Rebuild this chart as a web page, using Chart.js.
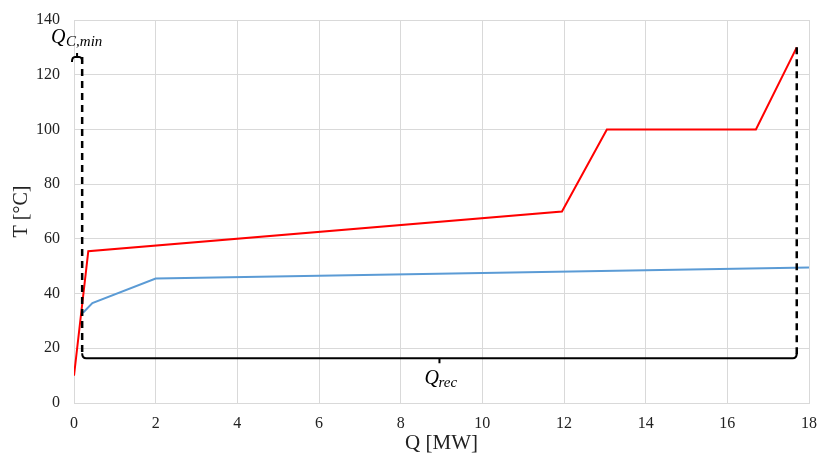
<!DOCTYPE html>
<html>
<head>
<meta charset="utf-8">
<script src="https://cdn.jsdelivr.net/npm/chart.js@4.4.1/dist/chart.umd.min.js"></script>
<style>
  body { margin: 0; background: #fff; }
  canvas { display: block; }
</style>
</head>
<body>
<canvas id="chart" width="819" height="459"></canvas>
<script>
// curva compuesta caliente
const hotQ = [0, 0.35, 11.95, 13.05, 16.7, 17.7];
const hotT = [10, 55.5, 70, 100, 100, 130];
// curva compuesta fría
const coldQ = [0.22, 0.45, 2, 18];
const coldT = [33, 36.5, 45.5, 49.5];

// ejes
const xMin = 0, xMax = 18, xStep = 2;
const yMin = 0, yMax = 140, yStep = 20;

// anotaciones (valores en unidades del gráfico)
const qcMinStart = -0.05;
const qcMinEnd = 0.2;
const qcMinTop = 126.5;
const qrecEnd = 17.7;
const qrecTopT = 130;
const bracketT = 16.4;

const serif = '"Liberation Serif", "Times New Roman", serif';

function pts(xs, ys) {
    return xs.map((x, i) => ({ x: x, y: ys[i] }));
}

const bracketPlugin = {
    id: 'brackets',
    afterDatasetsDraw(chart) {
        const ctx = chart.ctx;
        const sx = chart.scales.x, sy = chart.scales.y;
        const xl = sx.getPixelForValue(qcMinEnd);
        const xr = sx.getPixelForValue(qrecEnd);
        const yb = sy.getPixelForValue(bracketT);
        const yt = sy.getPixelForValue(qcMinTop);
        const yr = sy.getPixelForValue(qrecTopT);
        const x0 = sx.getPixelForValue(qcMinStart);

        ctx.save();
        ctx.strokeStyle = '#000';
        // líneas discontinuas
        ctx.lineWidth = 2.5;
        ctx.setLineDash([7, 5]);
        ctx.beginPath();
        ctx.moveTo(xl, yt);
        ctx.lineTo(xl, yb - 4);
        ctx.moveTo(xr, yr);
        ctx.lineTo(xr, yb - 4);
        ctx.stroke();

        // llave inferior (Q_rec)
        ctx.setLineDash([]);
        ctx.lineWidth = 2;
        const xm = (xl + xr) / 2;
        ctx.beginPath();
        ctx.moveTo(xl, yb - 5);
        ctx.quadraticCurveTo(xl, yb, xl + 4, yb);
        ctx.lineTo(xr - 4, yb);
        ctx.quadraticCurveTo(xr, yb, xr, yb - 5);
        ctx.moveTo(xm, yb);
        ctx.lineTo(xm, yb + 5);
        ctx.stroke();

        // llave superior (Q_C,min)
        const xmt = (x0 + xl) / 2;
        ctx.beginPath();
        ctx.moveTo(x0, yt + 5);
        ctx.quadraticCurveTo(x0, yt, x0 + 3, yt);
        ctx.lineTo(xl - 3, yt);
        ctx.quadraticCurveTo(xl, yt, xl, yt + 5);
        ctx.moveTo(xmt, yt);
        ctx.lineTo(xmt, yt - 4);
        ctx.stroke();

        // etiquetas
        ctx.fillStyle = '#000';
        ctx.textBaseline = 'alphabetic';
        ctx.textAlign = 'left';
        ctx.font = 'italic 20px ' + serif;
        ctx.fillText('Q', xmt - 26, yt - 14);
        ctx.font = 'italic 15px ' + serif;
        ctx.fillText('C,min', xmt - 11, yt - 11);

        ctx.font = 'italic 20px ' + serif;
        ctx.fillText('Q', xm - 15, yb + 26);
        ctx.font = 'italic 15px ' + serif;
        ctx.fillText('rec', xm - 1, yb + 29);
        ctx.restore();
    }
};

new Chart(document.getElementById('chart').getContext('2d'), {
    type: 'scatter',
    data: {
        datasets: [{
            data: pts(hotQ, hotT),
            showLine: true,
            borderColor: '#FF0000',
            borderWidth: 2,
            pointRadius: 0,
            tension: 0
        }, {
            data: pts(coldQ, coldT),
            showLine: true,
            borderColor: '#5B9BD5',
            borderWidth: 2,
            pointRadius: 0,
            tension: 0
        }]
    },
    options: {
        responsive: false,
        animation: false,
        layout: { padding: { top: 20, right: 10, left: 0, bottom: 0 } },
        plugins: { legend: { display: false }, tooltip: { enabled: false } },
        scales: {
            x: {
                type: 'linear',
                min: xMin, max: xMax,
                afterFit: scale => {
                    scale.height = 56;
                    scale.paddingLeft = 0;
                    scale.paddingRight = 0;
                },
                ticks: { stepSize: xStep, padding: 11, color: '#222', font: { family: serif, size: 16 } },
                grid: { color: '#D9D9D9', drawTicks: false },
                border: { color: '#D9D9D9' },
                title: { display: true, text: 'Q [MW]', color: '#222', font: { family: serif, size: 21 }, padding: { top: 0, bottom: 3 } }
            },
            y: {
                min: yMin, max: yMax,
                afterFit: scale => {
                    scale.width = 74;
                    scale.paddingTop = 0;
                    scale.paddingBottom = 0;
                },
                ticks: { stepSize: yStep, padding: 14, color: '#222', font: { family: serif, size: 16 } },
                grid: { color: '#D9D9D9', drawTicks: false },
                border: { color: '#D9D9D9' },
                title: { display: true, text: 'T [°C]', color: '#222', font: { family: serif, size: 20 }, padding: { top: 10, bottom: 0 } }
            }
        }
    },
    plugins: [bracketPlugin]
});
</script>
</body>
</html>
